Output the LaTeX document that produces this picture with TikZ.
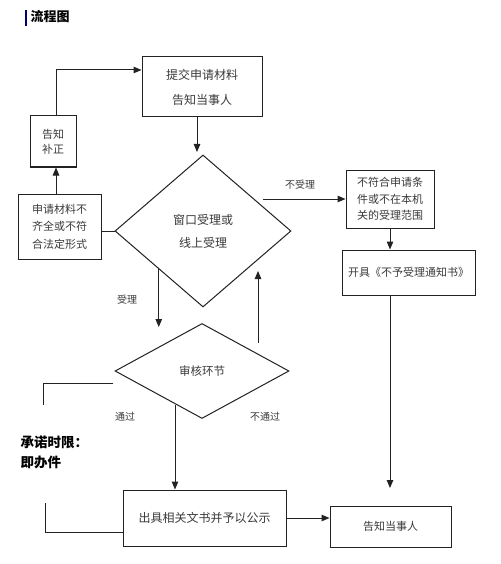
\documentclass[tikz,border=0pt]{standalone}
\usepackage{fontspec}
\setmainfont{Noto Sans CJK SC}
\usetikzlibrary{shapes.geometric,arrows.meta}
\definecolor{txt}{HTML}{3A3A3A}
\definecolor{lncol}{HTML}{222222}
\begin{document}
\begin{tikzpicture}[x=1pt,y=-1pt,
  every node/.style={text=txt},
  box/.style={draw=lncol, line width=1pt, inner sep=0pt, align=center, rectangle},
  dia/.style={draw=lncol, line width=1pt, diamond, inner sep=0pt, align=center},
  arr/.style={draw=lncol, line width=1pt, -{Triangle[length=8pt,width=6.5pt]}},
  plain/.style={draw=lncol, line width=1pt},
  lab/.style={font=\fontsize{10}{12}\selectfont}
]
\useasboundingbox (0,0) rectangle (500,564);
\fill[white] (0,0) rectangle (500,564);

% title
\draw[blue!45!black, line width=1.5pt] (26,10) -- (26,26);
\node[anchor=west, text=black, font=\bfseries\fontsize{13}{15}\selectfont] (title) at (27,17) {流程图};

% boxes
\node[box, minimum width=120, minimum height=60, font=\fontsize{12}{25}\selectfont] (tb) at (202,87) {提交申请材料\\告知当事人};
\node[box, minimum width=46, minimum height=51, font=\fontsize{11}{15}\selectfont] (bz) at (53,141.5) {告知\\补正};
\node[box, minimum width=83, minimum height=65, font=\fontsize{11}{17.5}\selectfont] (sq) at (59.5,226.5) {申请材料不\\齐全或不符\\合法定形式};
\node[dia, minimum width=176, minimum height=152, font=\fontsize{12}{23}\selectfont] (d1) at (203,231) {窗口受理或\\线上受理};
\node[box, minimum width=88, minimum height=58, font=\fontsize{11}{16.5}\selectfont] (nf) at (390,199) {不符合申请条\\件或不在本机\\关的受理范围};
\node[box, minimum width=133, minimum height=45, font=\fontsize{11}{13}\selectfont] (kj) at (408.5,272.5) {开具《不予受理通知书》};
\node[dia, minimum width=174, minimum height=95, font=\fontsize{11.5}{13}\selectfont] (d2) at (202,371) {审核环节};
\node[box, minimum width=163, minimum height=56, font=\fontsize{12}{14}\selectfont] (out) at (204.5,518) {出具相关文书并予以公示};
\node[box, minimum width=121, minimum height=41, font=\fontsize{11}{13}\selectfont] (gz) at (390.5,526.5) {告知当事人};

% labels
\node[lab] (l1) at (300,185) {不受理};
\node[lab] (l2) at (127,300) {受理};
\node[lab] (l3) at (125,417) {通过};
\node[lab] (l4) at (265,417) {不通过};
\node[anchor=west, align=left, text=black, font=\bfseries\fontsize{13.5}{20}\selectfont] (cn) at (17,452) {承诺时限：\\即办件};

% helper coordinates
\coordinate (xl) at (56,0);
\coordinate (yt) at (0,70);
\coordinate (xa) at (197,0);
\coordinate (ya) at (0,152);
\coordinate (c1) at (263,199);
\coordinate (e1) at (390,488);
\coordinate (yb) at (0,327);
\coordinate (u1) at (258,343);
\coordinate (u2) at (258,271);
\coordinate (p1) at (175,405);
\coordinate (b1) at (113,383);
\coordinate (b2) at (43,383);
\coordinate (b3) at (43,405);
\coordinate (b4) at (45,503);
\coordinate (yc) at (0,532);

% connectors
\draw[arr] (sq.north -| xl) -- (bz.south -| xl);
\draw[arr] (bz.north -| xl) -- (xl |- yt) -- (tb.west |- yt);
\draw[arr] (tb.south -| xa) -- (xa |- ya);
\draw[plain] (d1.west) -- (sq.east |- d1.west);
\draw[arr] (c1) -- (nf.west |- c1);
\draw[arr] (nf.south) -- (nf.south |- kj.north);
\draw[arr] (nf.south |- kj.south) -- (e1);
\draw[arr] (d1.south west) -- (d1.south west |- yb);
\draw[arr] (u1) -- (u2);
\draw[arr] (p1) -- (p1 |- out.north);
\draw[arr] (out.east) -- (out.east -| gz.west);
\draw[plain] (b1) -- (b2) -- (b3);
\draw[plain] (b4) -- (b4 |- yc) -- (out.west |- yc);
\end{tikzpicture}
\end{document}
